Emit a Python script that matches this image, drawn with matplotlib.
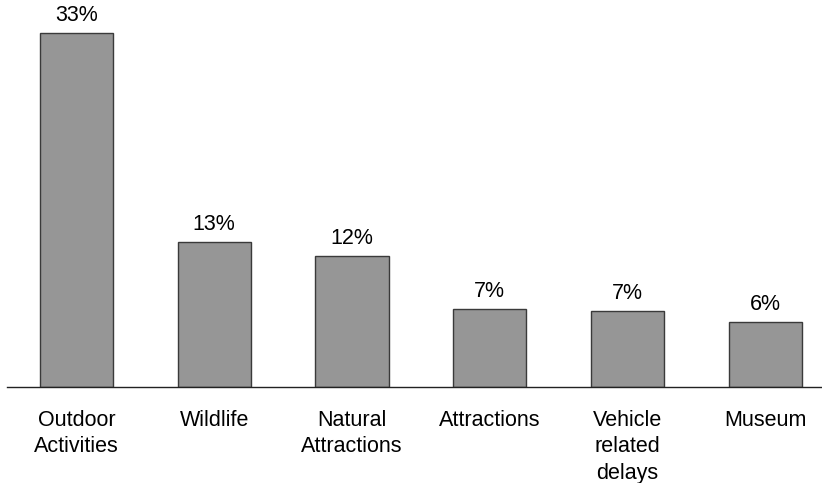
import matplotlib

matplotlib.use("Agg")
import matplotlib.pyplot as plt
import numpy as np

categories = [
    "Outdoor\nActivities",
    "Wildlife",
    "Natural\nAttractions",
    "Attractions",
    "Vehicle\nrelated\ndelays",
    "Museum",
]
shares = [32.6, 13.35, 12.05, 7.2, 7.0, 6.0]
labels = ["33%", "13%", "12%", "7%", "7%", "6%"]

plt.rcParams["font.family"] = ["Liberation Sans", "DejaVu Sans"]

fig = plt.figure(figsize=(8.22, 4.83), dpi=100)
ax = fig.add_axes([0.0085, 0.1994, 0.9915, 0.8006])

x = np.arange(len(categories))
bars = ax.bar(x, shares, width=0.53, color="#969696", edgecolor="#3a3a3a", linewidth=1.0)

for bar, lab in zip(bars, labels):
    ax.annotate(
        lab,
        (bar.get_x() + bar.get_width() / 2, bar.get_height()),
        xytext=(0, 5),
        textcoords="offset points",
        ha="center",
        va="bottom",
        fontsize=15.5,
    )

ax.set_xlim(-0.503, 5.41)
ax.set_ylim(0, 35.67)
ax.set_xticks(x)
ax.set_xticklabels(categories, fontsize=15.5, va="top", linespacing=1.32)
ax.tick_params(axis="x", length=0, pad=17)
ax.set_yticks([])
for side in ("top", "right", "left"):
    ax.spines[side].set_visible(False)
ax.spines["bottom"].set_color("#222222")
ax.spines["bottom"].set_linewidth(1.0)

fig.savefig("out.png", dpi=100)
